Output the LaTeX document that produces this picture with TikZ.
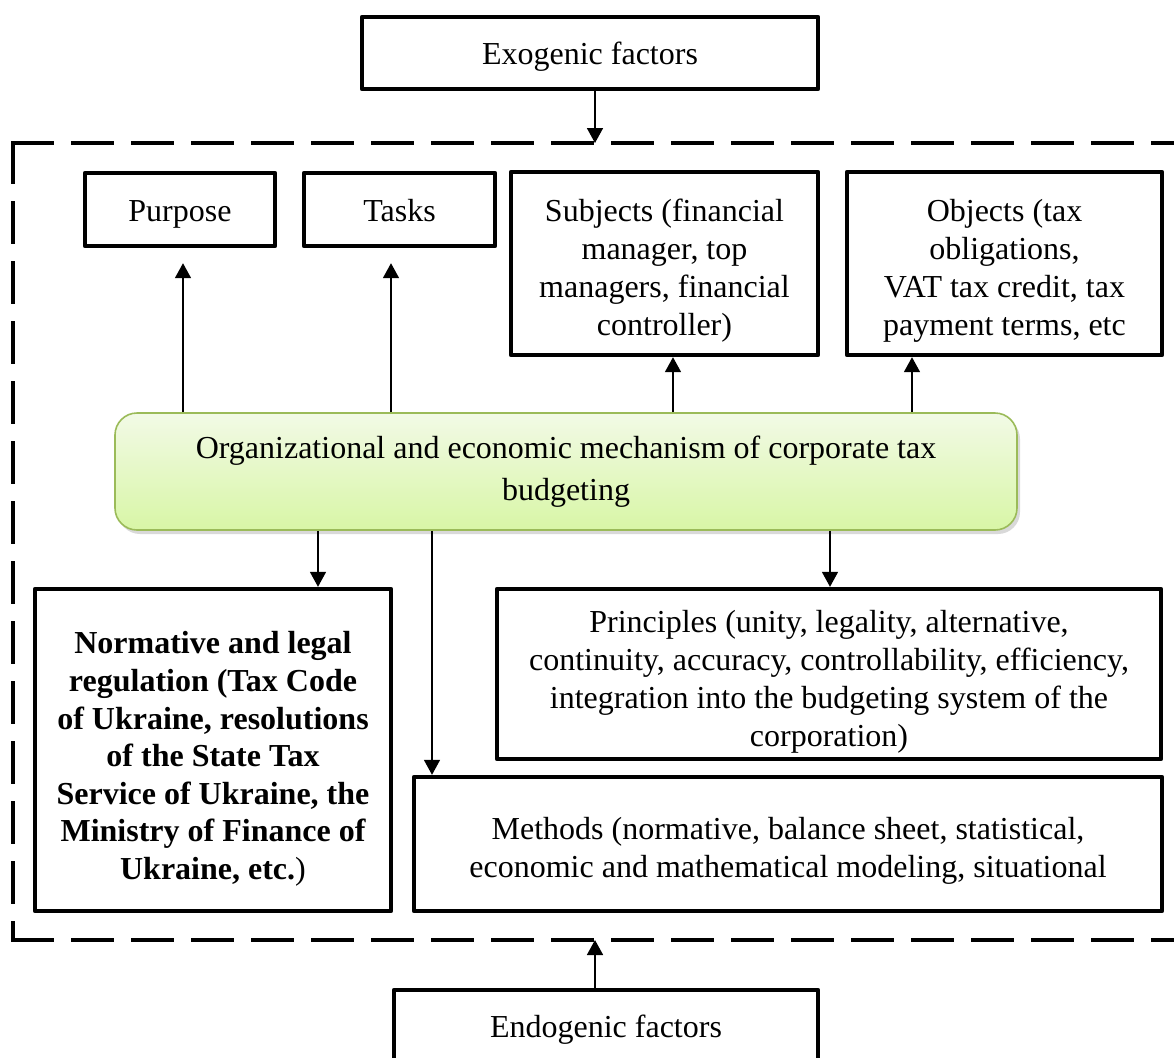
\documentclass[tikz,border=0pt]{standalone}
\usepackage{fontspec}
\setmainfont{Liberation Serif}
\usetikzlibrary{arrows.meta,shadows}
\definecolor{gtop}{HTML}{F2FAE6}
\definecolor{gbot}{HTML}{D8F6A6}
\definecolor{gborder}{HTML}{9BBB59}
\newcommand{\mystrut}[1]{\rule{0pt}{#1}}
\tikzset{
  box/.style={draw, line width=2.2pt, align=center, inner sep=0pt, line join=round,
    font=\fontsize{16}{19}\selectfont},
  onebox/.style={box, text height=15pt, text depth=3.5pt},
  mechbox/.style={draw=gborder, line width=0.8pt, align=center, inner sep=0pt,
    rounded corners=11pt, top color=gtop, bottom color=gbot,
    drop shadow={opacity=0.3, shadow xshift=1.5pt, shadow yshift=-2pt},
    font=\fontsize{16}{21}\selectfont},
  arr/.style={-{Triangle[length=7.5pt,width=8pt]}, line width=0.85pt},
  framestyle/.style={draw, line width=2.2pt, line cap=rect, dash pattern=on 19.5pt off 10.5pt},
}
\begin{document}
\begin{tikzpicture}[x=0.5pt,y=-0.5pt]
\useasboundingbox (0,0) rectangle (1174,1057);
% frame
\coordinate (ftl) at (13,143);
\coordinate (ftr) at (1200,143);
\coordinate (fbl) at (13,940);
\coordinate (fbr) at (1200,940);
\draw[framestyle] (ftl) -- (ftr);
\draw[framestyle] (ftl) -- (fbl);
\draw[framestyle] (fbl) -- (fbr);
% nodes
\node[onebox, minimum width=228pt, minimum height=36pt] (exo) at (590,53) {Exogenic factors};
\node[onebox, minimum width=95pt, minimum height=36.5pt] (purpose) at (180,209.5) {Purpose};
\node[onebox, minimum width=95.5pt, minimum height=36.5pt] (tasks) at (399.5,209.5) {Tasks};
\node[box, minimum width=153.5pt, minimum height=91.5pt] (subjects) at (664.5,263.5)
  {\mystrut{18pt}Subjects (financial\\ manager, top\\ managers, financial\\ controller)};
\node[box, minimum width=157.5pt, minimum height=91.5pt] (objects) at (1004.5,263.5)
  {\mystrut{18pt}Objects (tax\\ obligations,\\ VAT tax credit, tax\\ payment terms, etc};
\node[mechbox, minimum width=451pt, minimum height=58.5pt] (mech) at (566,471.5)
  {Organizational and economic mechanism of corporate tax\\ budgeting};
\node[box, minimum width=178pt, minimum height=161pt, font=\fontsize{16}{18.8}\selectfont\bfseries] (norm) at (213,750)
  {\mystrut{20pt}Normative and legal\\ regulation (Tax Code\\ of Ukraine, resolutions\\ of the State Tax\\ Service of Ukraine, the\\ Ministry of Finance of\\ Ukraine, etc.{\mdseries )}};
\node[box, minimum width=332pt, minimum height=85pt] (princ) at (829,674)
  {\mystrut{19pt}Principles (unity, legality, alternative,\\ continuity, accuracy, controllability, efficiency,\\ integration into the budgeting system of the\\ corporation)};
\node[box, minimum width=374pt, minimum height=67pt] (meth) at (788,844)
  {\mystrut{18pt}Methods (normative, balance sheet, statistical,\\ economic and mathematical modeling, situational};
\node[onebox, minimum width=212pt, minimum height=36pt] (endo) at (606,1026) {Endogenic factors};
% arrow x positions
\coordinate (xa) at (595,0);
\coordinate (xp) at (183,0);
\coordinate (xt) at (391,0);
\coordinate (xs) at (673,0);
\coordinate (xo) at (912,0);
\coordinate (xn) at (318,0);
\coordinate (xm) at (432,0);
\coordinate (xr) at (830,0);
% connectors
\draw[arr] (exo.south -| xa) -- (ftl -| xa);
\draw[arr] (endo.north -| xa) -- (fbl -| xa);
\draw[arr, shorten >=7.5pt] (mech.north -| xp) -- (purpose.south -| xp);
\draw[arr, shorten >=7.5pt] (mech.north -| xt) -- (tasks.south -| xt);
\draw[arr] (mech.north -| xs) -- (subjects.south -| xs);
\draw[arr] (mech.north -| xo) -- (objects.south -| xo);
\draw[arr] (mech.south -| xn) -- (norm.north -| xn);
\draw[arr] (mech.south -| xm) -- (meth.north -| xm);
\draw[arr] (mech.south -| xr) -- (princ.north -| xr);
\end{tikzpicture}
\end{document}
